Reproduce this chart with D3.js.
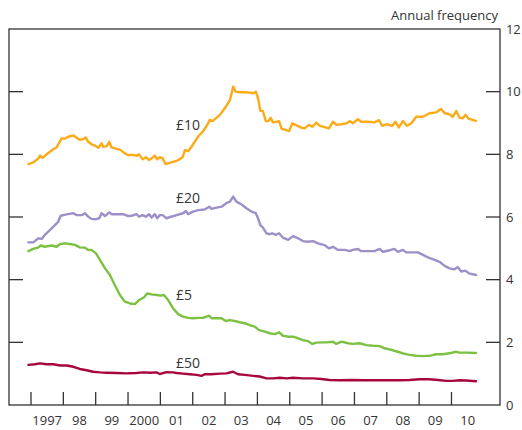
<!DOCTYPE html>
<html><head><meta charset="utf-8">
<script src="https://cdn.jsdelivr.net/npm/d3@7"></script>
<style>
html,body{margin:0;padding:0;background:#fff;}
text{font-family:"Open Sans","Noto Sans",sans-serif;fill:#333;}
</style></head>
<body><svg id="chart" width="522" height="430"></svg>
<script>
// Data: [decimal year, annual frequency]
const fivePound = [[1996.92,4.91],[1997.07,4.98],[1997.23,5.03],[1997.30,5.09],[1997.43,5.05],[1997.64,5.09],[1997.79,5.05],[1997.90,5.14],[1998.05,5.16],[1998.20,5.14],[1998.36,5.11],[1998.51,5.03],[1998.67,5.02],[1998.77,4.95],[1998.87,4.95],[1999.01,4.84],[1999.13,4.63],[1999.29,4.36],[1999.44,4.15],[1999.59,3.83],[1999.75,3.51],[1999.90,3.30],[2000.06,3.24],[2000.21,3.22],[2000.34,3.35],[2000.49,3.43],[2000.59,3.56],[2000.73,3.53],[2000.88,3.51],[2001.01,3.49],[2001.11,3.51],[2001.24,3.35],[2001.39,3.09],[2001.55,2.90],[2001.70,2.82],[2001.86,2.78],[2002.01,2.77],[2002.17,2.78],[2002.32,2.78],[2002.51,2.85],[2002.58,2.77],[2002.74,2.77],[2002.89,2.77],[2003.02,2.68],[2003.15,2.71],[2003.30,2.68],[2003.45,2.64],[2003.61,2.61],[2003.76,2.55],[2003.92,2.50],[2004.05,2.39],[2004.23,2.34],[2004.38,2.29],[2004.54,2.26],[2004.67,2.32],[2004.79,2.21],[2004.95,2.18],[2005.10,2.18],[2005.26,2.13],[2005.41,2.07],[2005.56,2.04],[2005.70,1.95],[2005.82,1.99],[2005.98,2.00],[2006.13,2.00],[2006.34,2.02],[2006.44,1.95],[2006.60,2.02],[2006.80,1.97],[2006.95,1.95],[2007.16,1.97],[2007.37,1.91],[2007.57,1.89],[2007.78,1.88],[2007.93,1.81],[2008.14,1.76],[2008.34,1.70],[2008.50,1.65],[2008.70,1.60],[2008.91,1.57],[2009.12,1.56],[2009.32,1.57],[2009.53,1.62],[2009.73,1.62],[2009.94,1.65],[2010.13,1.70],[2010.25,1.67],[2010.46,1.67],[2010.76,1.66]];
const tenPound = [[1996.92,7.69],[1997.07,7.74],[1997.23,7.87],[1997.28,7.96],[1997.36,7.89],[1997.48,8.00],[1997.69,8.16],[1997.79,8.22],[1997.87,8.37],[1997.95,8.51],[1998.05,8.50],[1998.15,8.56],[1998.31,8.60],[1998.41,8.53],[1998.51,8.46],[1998.62,8.49],[1998.69,8.54],[1998.77,8.40],[1998.87,8.32],[1998.98,8.28],[1999.08,8.21],[1999.18,8.35],[1999.23,8.24],[1999.34,8.26],[1999.42,8.40],[1999.49,8.22],[1999.59,8.19],[1999.75,8.15],[1999.90,8.03],[2000.00,7.98],[2000.16,7.98],[2000.26,7.95],[2000.34,8.00],[2000.45,7.84],[2000.55,7.91],[2000.65,7.82],[2000.73,7.87],[2000.83,7.96],[2000.90,7.84],[2000.98,7.91],[2001.07,7.87],[2001.16,7.69],[2001.29,7.73],[2001.50,7.79],[2001.69,7.91],[2001.76,8.14],[2001.86,8.10],[2002.00,8.30],[2002.16,8.56],[2002.31,8.72],[2002.45,8.94],[2002.53,9.10],[2002.61,9.06],[2002.74,9.17],[2002.84,9.26],[2002.99,9.47],[2003.15,9.73],[2003.25,10.16],[2003.33,10.00],[2003.45,9.98],[2003.61,9.98],[2003.76,9.97],[2003.87,9.95],[2003.95,10.00],[2004.02,9.79],[2004.09,9.39],[2004.17,9.38],[2004.26,9.06],[2004.34,9.06],[2004.41,9.17],[2004.48,9.02],[2004.59,9.04],[2004.67,9.06],[2004.75,8.81],[2004.88,8.78],[2004.98,8.74],[2005.08,8.99],[2005.18,8.94],[2005.36,8.85],[2005.46,8.83],[2005.59,8.94],[2005.70,8.88],[2005.82,9.01],[2005.93,8.91],[2006.08,8.87],[2006.21,8.83],[2006.34,9.04],[2006.44,8.94],[2006.60,8.96],[2006.75,8.99],[2006.87,9.06],[2006.95,8.99],[2007.11,9.12],[2007.21,9.04],[2007.42,9.04],[2007.62,9.02],[2007.76,9.09],[2007.86,8.91],[2007.99,8.96],[2008.17,8.91],[2008.27,9.04],[2008.37,8.86],[2008.50,9.06],[2008.62,8.91],[2008.76,8.99],[2008.91,9.20],[2009.12,9.20],[2009.32,9.31],[2009.53,9.34],[2009.68,9.45],[2009.79,9.31],[2009.94,9.28],[2010.04,9.20],[2010.15,9.38],[2010.25,9.17],[2010.35,9.15],[2010.43,9.26],[2010.54,9.13],[2010.76,9.07]];
const twentyPound = [[1996.92,5.19],[1997.07,5.19],[1997.23,5.32],[1997.33,5.30],[1997.43,5.43],[1997.59,5.59],[1997.74,5.74],[1997.84,5.85],[1997.92,6.04],[1998.00,6.06],[1998.15,6.09],[1998.31,6.12],[1998.41,6.06],[1998.57,6.06],[1998.67,6.12],[1998.77,6.01],[1998.87,5.94],[1999.01,5.93],[1999.11,5.96],[1999.18,6.12],[1999.29,6.03],[1999.42,6.15],[1999.49,6.09],[1999.65,6.09],[1999.85,6.09],[2000.00,6.03],[2000.11,6.04],[2000.26,6.09],[2000.34,6.01],[2000.45,6.06],[2000.55,6.01],[2000.65,6.09],[2000.73,5.98],[2000.83,6.09],[2000.90,5.96],[2000.98,6.06],[2001.07,6.06],[2001.19,5.96],[2001.30,6.00],[2001.50,6.06],[2001.70,6.12],[2001.79,6.19],[2001.86,6.09],[2002.01,6.17],[2002.17,6.22],[2002.37,6.24],[2002.51,6.33],[2002.58,6.26],[2002.74,6.30],[2002.89,6.33],[2003.04,6.44],[2003.15,6.49],[2003.25,6.65],[2003.35,6.49],[2003.51,6.40],[2003.66,6.28],[2003.82,6.17],[2003.95,6.12],[2004.02,5.96],[2004.09,5.74],[2004.17,5.66],[2004.28,5.48],[2004.38,5.45],[2004.46,5.48],[2004.57,5.43],[2004.67,5.48],[2004.79,5.34],[2004.95,5.27],[2005.10,5.39],[2005.26,5.32],[2005.41,5.23],[2005.56,5.21],[2005.72,5.23],[2005.87,5.16],[2006.08,5.10],[2006.21,5.00],[2006.34,5.05],[2006.49,4.95],[2006.70,4.95],[2006.85,4.91],[2006.95,4.95],[2007.11,4.98],[2007.21,4.91],[2007.42,4.91],[2007.62,4.91],[2007.78,4.98],[2007.88,4.89],[2008.09,4.94],[2008.24,4.98],[2008.34,4.89],[2008.50,4.95],[2008.60,4.87],[2008.81,4.87],[2008.96,4.87],[2009.12,4.79],[2009.27,4.71],[2009.48,4.63],[2009.63,4.57],[2009.79,4.44],[2009.94,4.36],[2010.09,4.33],[2010.20,4.40],[2010.30,4.26],[2010.43,4.29],[2010.54,4.20],[2010.76,4.15]];
const fiftyPound = [[1996.92,1.28],[1997.12,1.30],[1997.28,1.33],[1997.48,1.30],[1997.69,1.30],[1997.90,1.26],[1998.10,1.26],[1998.31,1.22],[1998.51,1.15],[1998.72,1.11],[1998.92,1.06],[1999.13,1.04],[1999.34,1.03],[1999.65,1.02],[1999.96,1.01],[2000.26,1.02],[2000.47,1.04],[2000.68,1.03],[2000.88,1.04],[2000.98,0.99],[2001.19,1.05],[2001.39,1.04],[2001.50,1.02],[2001.70,1.00],[2001.91,0.98],[2002.12,0.96],[2002.27,0.93],[2002.37,0.98],[2002.58,0.98],[2002.84,1.00],[2003.04,1.01],[2003.25,1.06],[2003.40,0.98],[2003.61,0.96],[2003.87,0.93],[2004.07,0.91],[2004.28,0.85],[2004.48,0.85],[2004.69,0.87],[2004.90,0.85],[2005.10,0.87],[2005.41,0.85],[2005.72,0.85],[2005.98,0.83],[2006.23,0.80],[2006.54,0.79],[2006.95,0.80],[2007.26,0.79],[2007.68,0.79],[2007.99,0.79],[2008.40,0.79],[2008.70,0.80],[2009.01,0.82],[2009.32,0.82],[2009.58,0.80],[2009.84,0.77],[2010.04,0.77],[2010.25,0.79],[2010.46,0.78],[2010.76,0.76]];

const seriesNames = ["£5","£10","£20","£50"];
const seriesColors = ["#7cc142","#fbab18","#9d90c8","#a8073e"];
const seriesLabelPos = [[2001.48, 3.51],[2001.48, 8.94],[2001.48, 6.61],[2001.48, 1.34]]; // label anchor in data units
const yearTicks = d3.range(1997, 2011);
const yearLabels = ["1997","98","99","2000","01","02","03","04","05","06","07","08","09","10"];
const yTicks = [0,2,4,6,8,10,12];
const yTitle = "Annual frequency";

const svg = d3.select("#chart");
const mLeft = 9, mRight = 500, mTop = 29, mBottom = 405;
const x = d3.scaleLinear().domain([1996.32, 2011.5]).range([mLeft, mRight]);
const y = d3.scaleLinear().domain([0, 12]).range([mBottom, mTop]);

// frame
svg.append("rect").attr("x", mLeft).attr("y", mTop).attr("width", mRight-mLeft).attr("height", mBottom-mTop)
  .attr("fill","none").attr("stroke","#333").attr("stroke-width",1.3);

const tickLen = 14;
const inner = yTicks.filter(d=>d>0 && d<12);
svg.append("g").selectAll("line").data(inner).join("line")
  .attr("x1", mRight).attr("x2", mRight - tickLen).attr("y1", d=>y(d)).attr("y2", d=>y(d))
  .attr("stroke","#333").attr("stroke-width",1.3);
svg.append("g").selectAll("line").data(inner).join("line")
  .attr("x1", mLeft).attr("x2", mLeft + tickLen).attr("y1", d=>y(d)).attr("y2", d=>y(d))
  .attr("stroke","#333").attr("stroke-width",1.3);
svg.append("g").selectAll("text").data(yTicks).join("text")
  .attr("x", mRight + 6).attr("y", d=>y(d)).attr("dy","0.35em")
  .attr("font-size", 13).attr("letter-spacing", -0.3).text(d=>d);

svg.append("text").attr("x", mRight - 2).attr("y", 20).attr("text-anchor","end")
  .attr("font-size", 13).text(yTitle);

// bottom ticks
svg.append("g").selectAll("line").data(yearTicks).join("line")
  .attr("x1", d=>x(d)).attr("x2", d=>x(d)).attr("y1", mBottom).attr("y2", mBottom - 13)
  .attr("stroke","#333").attr("stroke-width",1.3);
svg.append("g").selectAll("text").data(yearTicks).join("text")
  .attr("x", d=>x(d + 0.5)).attr("y", 420).attr("dy","0.35em").attr("text-anchor","middle")
  .attr("font-size", 13).text((d,i)=>yearLabels[i]);

// lines
const line = d3.line().x(d=>x(d[0])).y(d=>y(d[1]));
const allSeries = [fivePound, tenPound, twentyPound, fiftyPound];
const order = [3,0,2,1];
order.forEach(i=>{
  svg.append("path").datum(allSeries[i]).attr("d", line)
    .attr("fill","none").attr("stroke", seriesColors[i]).attr("stroke-width", 2.4)
    .attr("stroke-linejoin","round").attr("stroke-linecap","round");
});
svg.append("g").selectAll("text").data(seriesNames).join("text")
  .attr("x", (d,i)=>x(seriesLabelPos[i][0])).attr("y", (d,i)=>y(seriesLabelPos[i][1]))
  .attr("dy","0.35em").attr("font-size", 14).text(d=>d);
</script></body></html>
